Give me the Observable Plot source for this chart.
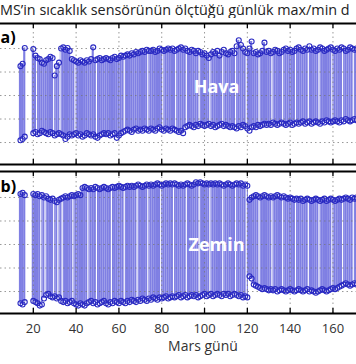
<!DOCTYPE html>
<html><head><meta charset="utf-8">
<script src="https://cdn.jsdelivr.net/npm/d3@7"></script>
<script src="https://cdn.jsdelivr.net/npm/@observablehq/plot@0.6"></script>
<style>
html,body{margin:0;padding:0;background:#fff}
body{width:356px;height:364px;overflow:hidden;position:relative;font-family:"Open Sans",sans-serif}
#title{position:absolute;top:3px;left:0;white-space:nowrap;font-size:15px;color:#222;line-height:14px}
#a{position:absolute;top:18px;left:0}
#b{position:absolute;top:166px;left:0}
#xl{position:absolute;top:340px;left:0;width:406px;text-align:center;font-size:14px;color:#333;line-height:12px}
</style>
</head><body>
<div id="title"></div>
<div id="a"></div>
<div id="b"></div>
<div id="xl"></div>
<script>
const titleText = "MS’in sıcaklık sensörünün ölçtüğü günlük max/min d";
const xLabel = "Mars günü";
const panelLabels = ["a)", "b)"];
const seriesNames = ["Hava", "Zemin"];
const xTicks = [20, 40, 60, 80, 100, 120, 140, 160];
const yGrid = [0, -20, -40, -60, -80];

const sols = [14,15,16,
20,21,22,23,24,25,26,27,28,29,
30,31,32,33,34,35,36,37,38,39,
40,41,42,43,44,45,46,47,48,49,
50,51,52,53,54,55,56,57,58,59,
60,61,62,63,64,65,66,67,68,69,
70,71,72,73,74,75,76,77,78,79,
80,81,82,83,84,85,86,87,88,89,
90,91,92,93,94,95,96,97,98,99,
100,101,102,103,104,105,106,107,108,109,
110,111,112,113,114,115,116,117,118,119,
120,121,122,123,124,125,126,127,128,129,
130,131,132,133,134,135,136,137,138,139,
140,141,142,143,144,145,146,147,148,149,
150,151,152,153,154,155,156,157,158,159,
160,161,162,163,164,165,166,167,168,169,
170,171];

const airMax = [-15,-13,0.5,
-0.5,-6,-8,-9,-12,-13,-10,-9,-7,-8,
-23,-15,-12,0,1,-1,0.5,-2,-9,-10,
-11,-12,-10,-11,-12,-10,-11,-9,1,-10,
-9,-8,-10,-9,-8,-9,-10,-8,-7,-9,
-8,-6,-7,-6,-5,-6,-4,-5,-3,-4,
-3,-2,-3,-1,-2,-2,-1,-3,-2,0,
-1,-2,-1,0,-1,0,-2,-1,0,1,
-1,0,-2,-3,-1,-2,-4,-2,-3,-5,
-4,-6,-8,-5,-3,-4,-2,-6,-3,-1,
-4,-5,-3,-2,-4,2,7,3,0,-3,
-4,0,6,-4,-3,-5,-4,-2,5,-3,
-2,-4,-3,-1,-2,-4,-3,-1,0,-2,
-1,-3,-2,0,1,-1,-2,0,-1,2,
-1,0,-2,-1,1,0,-2,-1,0,1,
-1,-2,0,-1,1,0,-2,-1,1,0,
-1,0];

const airMin = [-78,-77,-75,
-72,-71,-73,-72,-70,-71,-72,-73,-71,-72,
-74,-73,-72,-73,-74,-77,-75,-73,-74,-73,
-72,-74,-73,-75,-74,-72,-73,-74,-73,-75,
-76,-74,-73,-72,-73,-72,-74,-73,-72,-76,
-74,-72,-71,-70,-69,-70,-71,-69,-68,-70,
-69,-70,-68,-69,-70,-68,-69,-70,-68,-67,
-69,-70,-68,-69,-70,-68,-69,-70,-71,-70,
-72,-67,-66,-65,-66,-67,-65,-66,-64,-65,
-66,-65,-64,-66,-65,-67,-66,-65,-64,-66,
-65,-66,-67,-66,-67,-68,-66,-67,-65,-66,
-68,-70,-67,-66,-67,-65,-66,-65,-64,-65,
-64,-65,-63,-64,-65,-64,-63,-64,-65,-64,
-63,-65,-64,-63,-64,-63,-62,-64,-63,-62,
-64,-63,-62,-63,-64,-62,-63,-61,-62,-63,
-62,-61,-62,-63,-61,-62,-60,-61,-62,-61,
-60,-61];

const groundMax = [3,4,2,
3,2,3,1,2,0,1,-1,-2,-1,
-3,-4,-2,-1,0,1,0,1,2,1,
2,3,2,8,9,8,7,8,7,9,
8,7,8,9,8,7,8,9,8,9,
10,9,8,9,10,9,10,9,10,11,
10,9,10,11,10,11,10,11,12,11,
10,11,12,11,12,11,12,11,10,11,
10,11,12,11,10,11,13,12,13,12,
11,12,11,12,11,12,11,12,11,10,
11,12,11,10,11,12,11,12,10,11,
10,-2,0,1,2,1,0,1,2,1,
0,1,0,1,2,1,0,1,0,-1,
0,-1,-2,-1,-2,-1,-3,-2,-1,-2,
-3,-2,-1,-2,-3,-2,-1,-3,-2,-1,
-2,-3,-2,-1,-2,-1,0,-1,-2,0,
-1,0];

const groundMin = [-90,-91,-89,
-88,-89,-90,-92,-91,-86,-83,-82,-84,-85,
-84,-86,-85,-88,-89,-88,-90,-89,-88,-90,
-91,-92,-90,-91,-92,-90,-89,-88,-90,-89,
-91,-90,-89,-88,-90,-91,-89,-90,-88,-89,
-90,-88,-89,-90,-88,-89,-87,-88,-89,-87,
-88,-86,-87,-88,-86,-87,-85,-86,-87,-85,
-86,-85,-84,-86,-85,-84,-85,-84,-83,-85,
-84,-83,-85,-84,-83,-84,-83,-85,-84,-83,
-82,-84,-83,-82,-84,-83,-82,-83,-84,-82,
-83,-82,-84,-83,-82,-83,-84,-83,-85,-84,
-85,-67,-69,-74,-75,-76,-77,-78,-77,-78,
-79,-78,-79,-78,-80,-79,-78,-79,-80,-79,
-78,-79,-80,-79,-78,-79,-80,-79,-78,-80,
-79,-80,-81,-80,-79,-78,-79,-80,-79,-78,
-77,-78,-77,-76,-75,-74,-73,-74,-75,-74,
-73,-74];

const airGaps = [21.5,29.5,32.5,39.5,49.5,62.5,73.5,80.5,86.5,91.5,97.5,102.5,108.5,114.5,119.5,125.5,131.5,136.5,142.5,148.5,153.5,159.5,164.5,169.5];
const groundGaps = [23.5,25.5,29.5,31.5,33.5,38.5,45.5,49.5,56.5,62.5,68.5,73.5,79.5,85.5,91.5,97.5,102.5,108.5,114.5,119.5,125.5,131.5,136.5,142.5,148.5,153.5,159.5,164.5,169.5];

const xDomain = [4.67, 171.0];
const barFill = "#7f7fe3";
const markStroke = "#2a2ac2";

function panel({maxV, minV, gaps, yDomain, height, marginTop, marginBottom, label, name, labelDy, nameDy, showAxis}) {
  const rows = sols.map((s, i) => ({sol: s, max: maxV[i], min: minV[i]}));
  const top = yDomain[1], bot = yDomain[0];
  const tickLen = 5 / 1.175;
  const marks = [
    Plot.rect(rows, {x1: d => d.sol - 0.5, x2: d => d.sol + 0.5, y1: "min", y2: "max", fill: barFill}),
    Plot.ruleX(gaps, {x: d => d, y1: bot, y2: top, stroke: "#fff", strokeWidth: 1.1}),
    Plot.ruleY(yGrid, {y: d => d, stroke: "#777", strokeOpacity: 0.75, strokeDasharray: "1.5,3"}),
    Plot.ruleX(xTicks, {x: d => d, y1: bot, y2: top, stroke: "#777", strokeOpacity: 0.75, strokeDasharray: "1.5,3"}),
    Plot.dot(rows, {x: "sol", y: "max", r: 2.5, stroke: markStroke, strokeWidth: 1.1, fill: "none"}),
    Plot.dot(rows, {x: "sol", y: "min", r: 2.5, stroke: markStroke, strokeWidth: 1.1, fill: "none"}),
    Plot.ruleX(xTicks, {x: d => d, y1: top, y2: top - tickLen, stroke: "#000", strokeWidth: 1.3}),
    Plot.ruleX(xTicks, {x: d => d, y1: bot, y2: bot + tickLen, stroke: "#000", strokeWidth: 1.3}),
    Plot.ruleY([top, bot], {y: d => d, stroke: "#000", strokeWidth: 2}),
    Plot.text([label], {text: d => d, frameAnchor: "top-left", textAnchor: "start", lineAnchor: "bottom", dx: 0, dy: labelDy, fontSize: 16, fontWeight: "bold", fill: "#000"}),
    Plot.text([name], {text: d => d, frameAnchor: "top-left", textAnchor: "middle", lineAnchor: "bottom", dx: 216, dy: nameDy, fontSize: 18, fontWeight: "bold", fill: "#fff"})
  ];
  if (showAxis) marks.push(Plot.axisX(xTicks, {anchor: "bottom", tickSize: 0, tickPadding: 10, fontSize: 13, label: null, fill: "#333"}));
  return Plot.plot({
    width: 356, height, marginLeft: 0, marginRight: 0, marginTop, marginBottom,
    style: {fontFamily: "'Open Sans', sans-serif", background: "#fff", overflow: "hidden"},
    x: {domain: xDomain, axis: showAxis ? undefined : null},
    y: {domain: yDomain, axis: null},
    marks
  });
}

document.getElementById("a").appendChild(panel({
  maxV: airMax, minV: airMin, gaps: airGaps, yDomain: [-98.7, 21.3],
  height: 150, marginTop: 5, marginBottom: 4, label: panelLabels[0], name: seriesNames[0],
  labelDy: 19, nameDy: 69, showAxis: false
}));
document.getElementById("b").appendChild(panel({
  maxV: groundMax, minV: groundMin, gaps: groundGaps, yDomain: [-98.7, 22.1],
  height: 198, marginTop: 5, marginBottom: 51, label: panelLabels[1], name: seriesNames[1],
  labelDy: 20, nameDy: 79, showAxis: true
}));

const t = document.getElementById("title");
t.textContent = titleText;
const ctx = document.createElement("canvas").getContext("2d");
ctx.font = "15px 'Open Sans'";
const w = ctx.measureText(titleText).width;
const fs = Math.min(16, 15 * 350 / w);
t.style.fontSize = fs + "px";
document.getElementById("xl").textContent = xLabel;
</script>
</body></html>
